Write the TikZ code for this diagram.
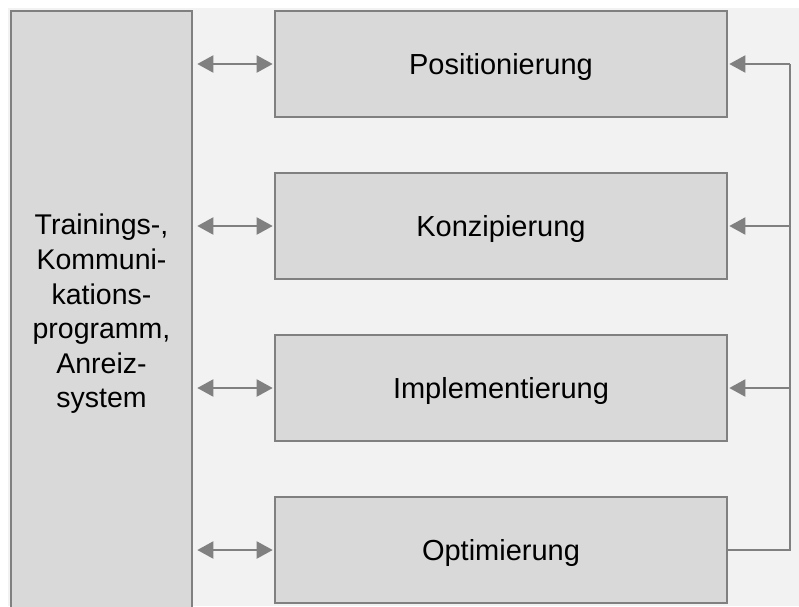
\documentclass[tikz,border=0pt]{standalone}
\usepackage{fontspec}
\setmainfont{Liberation Sans}
\usetikzlibrary{arrows.meta}
\definecolor{bgpanel}{HTML}{F2F2F2}
\definecolor{boxfill}{HTML}{D9D9D9}
\definecolor{edgegray}{HTML}{808080}
\begin{document}
\begin{tikzpicture}[x=1pt,y=-1pt,
  phasebox/.style={draw=edgegray,line width=2.6pt,fill=boxfill,rectangle,
    minimum width=452pt,minimum height=106pt,inner sep=0pt,
    text height=21pt,text depth=0pt,
    font=\fontsize{29}{34}\selectfont},
  sidebox/.style={draw=edgegray,line width=2.6pt,fill=boxfill,rectangle,
    minimum width=181pt,minimum height=606pt,inner sep=0pt,align=center,
    font=\fontsize{28.5}{34.6}\selectfont},
  link/.style={draw=edgegray,line width=2pt},
  biarrow/.style={link,{Triangle[length=16pt,width=17pt]}-{Triangle[length=16pt,width=17pt]}},
  feedarrow/.style={link,-{Triangle[length=16pt,width=17pt]}}
]
\useasboundingbox (0,0) rectangle (799,606);
\fill[white] (0,0) rectangle (799,606);
\fill[bgpanel] (8,8) rectangle (799,606);

% side column with the supporting measures
\node[sidebox] (side) at (101.5,314) {Trainings-,\\Kommuni-\\kations-\\programm,\\Anreiz-\\system};

% the four phases
\node[phasebox] (pos) at (501,64)  {Positionierung};
\node[phasebox] (kon) at (501,226) {Konzipierung};
\node[phasebox] (imp) at (501,388) {Implementierung};
\node[phasebox] (opt) at (501,550) {Optimierung};

% links between side column and phases
\foreach \p in {pos,kon,imp,opt}{
  \coordinate (s-\p) at ([xshift=4pt]side.east |- \p.west);
  \draw[biarrow] (s-\p) -- ([xshift=-1pt]\p.west);
}

% feedback loop on the right
\coordinate (rtop) at (790,64);
\coordinate (rbot) at (rtop |- opt.east);
\draw[link] (opt.east) -- (rbot) -- (rtop);
\draw[feedarrow] (rtop) -- ([xshift=1pt]pos.east);
\draw[feedarrow] (rtop |- kon.east) -- ([xshift=1pt]kon.east);
\draw[feedarrow] (rtop |- imp.east) -- ([xshift=1pt]imp.east);
\end{tikzpicture}
\end{document}
